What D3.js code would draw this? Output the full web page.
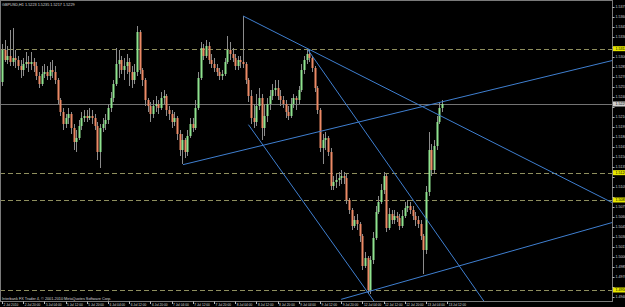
<!DOCTYPE html>
<html>
<head>
<meta charset="utf-8">
<title>GBPUSD,H1</title>
<script src="https://d3js.org/d3.v7.min.js"></script>
<style>
  html, body { margin: 0; padding: 0; background: #000; overflow: hidden; }
  text { font-family: "Liberation Sans", Arial, sans-serif; }
</style>
</head>
<body>
<div id="chart"></div>
<script>
// symbol and hourly bars (open of each bar = close of the previous one)
const symbol = "GBPUSD,H1";
const firstOpen = 1.5262;

const closes = [
  1.5310, 1.5295, 1.5301, 1.5292, 1.5298, 1.5295, 1.5286, 1.5280, 1.5289, 1.5292,
  1.5289, 1.5292, 1.5286, 1.5271, 1.5259, 1.5274, 1.5277, 1.5271, 1.5280, 1.5277,
  1.5265, 1.5235, 1.5217, 1.5199, 1.5208, 1.5214, 1.5193, 1.5172, 1.5178, 1.5196,
  1.5208, 1.5211, 1.5208, 1.5211, 1.5208, 1.5196, 1.5157, 1.5193, 1.5199, 1.5205,
  1.5223, 1.5238, 1.5259, 1.5289, 1.5295, 1.5280, 1.5286, 1.5292, 1.5277, 1.5265,
  1.5277, 1.5337, 1.5280, 1.5265, 1.5235, 1.5226, 1.5214, 1.5226, 1.5229, 1.5223,
  1.5238, 1.5241, 1.5220, 1.5214, 1.5202, 1.5208, 1.5184, 1.5160, 1.5175, 1.5157,
  1.5181, 1.5199, 1.5193, 1.5223, 1.5268, 1.5313, 1.5301, 1.5316, 1.5295, 1.5289,
  1.5283, 1.5277, 1.5271, 1.5274, 1.5292, 1.5310, 1.5304, 1.5298, 1.5286, 1.5295,
  1.5292, 1.5289, 1.5265, 1.5241, 1.5208, 1.5202, 1.5226, 1.5238, 1.5193, 1.5211,
  1.5229, 1.5241, 1.5250, 1.5253, 1.5241, 1.5235, 1.5229, 1.5217, 1.5211, 1.5229,
  1.5238, 1.5235, 1.5250, 1.5280, 1.5295, 1.5304, 1.5298, 1.5283, 1.5253, 1.5220,
  1.5163, 1.5175, 1.5178, 1.5157, 1.5106, 1.5112, 1.5115, 1.5118, 1.5121, 1.5118,
  1.5085, 1.5070, 1.5046, 1.5055, 1.5049, 1.5031, 1.4986, 1.4998, 1.4950, 1.4995,
  1.5028, 1.5067, 1.5082, 1.5100, 1.5121, 1.5043, 1.5064, 1.5055, 1.5061, 1.5058,
  1.5046, 1.5061, 1.5073, 1.5076, 1.5070, 1.5061, 1.5055, 1.5049, 1.5031, 1.5010,
  1.5097, 1.5160, 1.5130, 1.5166, 1.5202, 1.5223, 1.5229
];

const highs = [
  1.5319, 1.5325, 1.5316, 1.5340, 1.5343, 1.5310, 1.5301, 1.5295, 1.5298, 1.5307,
  1.5301, 1.5307, 1.5298, 1.5292, 1.5277, 1.5286, 1.5289, 1.5286, 1.5292, 1.5295,
  1.5286, 1.5268, 1.5238, 1.5223, 1.5214, 1.5223, 1.5217, 1.5199, 1.5190, 1.5205,
  1.5217, 1.5220, 1.5220, 1.5223, 1.5220, 1.5214, 1.5202, 1.5199, 1.5208, 1.5214,
  1.5229, 1.5247, 1.5265, 1.5313, 1.5310, 1.5301, 1.5298, 1.5304, 1.5298, 1.5286,
  1.5289, 1.5346, 1.5340, 1.5283, 1.5268, 1.5238, 1.5232, 1.5235, 1.5241, 1.5235,
  1.5247, 1.5250, 1.5244, 1.5226, 1.5220, 1.5217, 1.5211, 1.5190, 1.5184, 1.5178,
  1.5190, 1.5208, 1.5208, 1.5235, 1.5277, 1.5322, 1.5319, 1.5325, 1.5322, 1.5304,
  1.5298, 1.5289, 1.5283, 1.5280, 1.5298, 1.5331, 1.5322, 1.5313, 1.5304, 1.5301,
  1.5301, 1.5361, 1.5292, 1.5268, 1.5250, 1.5229, 1.5244, 1.5253, 1.5244, 1.5229,
  1.5238, 1.5250, 1.5259, 1.5265, 1.5265, 1.5250, 1.5241, 1.5235, 1.5226, 1.5238,
  1.5244, 1.5241, 1.5256, 1.5289, 1.5301, 1.5310, 1.5310, 1.5301, 1.5286, 1.5256,
  1.5223, 1.5184, 1.5187, 1.5181, 1.5163, 1.5121, 1.5124, 1.5127, 1.5130, 1.5127,
  1.5124, 1.5088, 1.5073, 1.5061, 1.5064, 1.5052, 1.5034, 1.5007, 1.5001, 1.5001,
  1.5037, 1.5076, 1.5091, 1.5109, 1.5127, 1.5124, 1.5073, 1.5070, 1.5070, 1.5067,
  1.5064, 1.5070, 1.5082, 1.5085, 1.5082, 1.5076, 1.5067, 1.5061, 1.5055, 1.5034,
  1.5106, 1.5187, 1.5169, 1.5175, 1.5211, 1.5232, 1.5235
];

const lows = [
  1.5256, 1.5292, 1.5289, 1.5286, 1.5286, 1.5283, 1.5280, 1.5268, 1.5271, 1.5283,
  1.5277, 1.5280, 1.5277, 1.5265, 1.5253, 1.5256, 1.5268, 1.5265, 1.5265, 1.5268,
  1.5259, 1.5229, 1.5211, 1.5190, 1.5193, 1.5199, 1.5184, 1.5160, 1.5157, 1.5175,
  1.5190, 1.5202, 1.5202, 1.5205, 1.5199, 1.5190, 1.5145, 1.5133, 1.5187, 1.5190,
  1.5199, 1.5217, 1.5232, 1.5256, 1.5268, 1.5274, 1.5265, 1.5274, 1.5256, 1.5253,
  1.5259, 1.5271, 1.5274, 1.5256, 1.5226, 1.5217, 1.5202, 1.5208, 1.5217, 1.5214,
  1.5220, 1.5229, 1.5211, 1.5205, 1.5193, 1.5196, 1.5175, 1.5151, 1.5139, 1.5148,
  1.5151, 1.5178, 1.5187, 1.5190, 1.5220, 1.5265, 1.5295, 1.5298, 1.5289, 1.5283,
  1.5277, 1.5271, 1.5265, 1.5265, 1.5271, 1.5289, 1.5295, 1.5292, 1.5280, 1.5280,
  1.5283, 1.5283, 1.5259, 1.5232, 1.5199, 1.5193, 1.5196, 1.5220, 1.5175, 1.5181,
  1.5202, 1.5220, 1.5235, 1.5241, 1.5235, 1.5226, 1.5223, 1.5208, 1.5205, 1.5208,
  1.5223, 1.5220, 1.5229, 1.5247, 1.5274, 1.5289, 1.5292, 1.5277, 1.5247, 1.5214,
  1.5157, 1.5139, 1.5160, 1.5151, 1.5100, 1.5100, 1.5103, 1.5106, 1.5109, 1.5109,
  1.5079, 1.5064, 1.5040, 1.5043, 1.5040, 1.5022, 1.4980, 1.4983, 1.4944, 1.4944,
  1.4989, 1.5025, 1.5064, 1.5079, 1.5094, 1.5037, 1.5040, 1.5049, 1.5049, 1.5052,
  1.5040, 1.5043, 1.5058, 1.5067, 1.5064, 1.5055, 1.5046, 1.5043, 1.5025, 1.4974,
  1.5004, 1.5091, 1.5121, 1.5124, 1.5160, 1.5199, 1.5217
];

// time axis labels and the bar they sit on
const timeLabels = [
  "2 Jul 2010", "2 Jul 20:00", "5 Jul 04:00", "5 Jul 12:00", "5 Jul 20:00", "6 Jul 04:00",
  "6 Jul 12:00", "6 Jul 20:00", "7 Jul 04:00", "7 Jul 12:00", "7 Jul 20:00", "8 Jul 04:00",
  "8 Jul 12:00", "8 Jul 20:00", "9 Jul 04:00", "9 Jul 12:00", "9 Jul 20:00", "12 Jul 04:00",
  "12 Jul 12:00", "12 Jul 20:00", "13 Jul 04:00", "13 Jul 12:00"
];
const timeLabelBars = [0, 8, 16, 24, 32, 40, 48, 56, 64, 72, 80, 88, 96, 104, 112, 120, 128, 136, 144, 152, 160, 168];

// price scale labels
const priceTicks = [
  1.5375, 1.5360, 1.5345, 1.5330, 1.5315, 1.5300, 1.5285, 1.5270, 1.5255, 1.5240,
  1.5225, 1.5210, 1.5195, 1.5180, 1.5165, 1.5150, 1.5135, 1.5120, 1.5105, 1.5090,
  1.5075, 1.5060, 1.5045, 1.5030, 1.5015, 1.5000, 1.4985, 1.4970, 1.4955, 1.4940
];

// horizontal levels (dashed) and trend lines (bar index, price) drawn as rays
const levels = [1.5312, 1.5126, 1.5085, 1.4950];
const trendStartBar = [68.3, 91, 115.5, 93, 128];
const trendStartPrice = [1.5138, 1.5361, 1.5310, 1.5198, 1.4936];
const trendEndBar = [228, 228.3, 180.5, 139, 228.3];
const trendEndPrice = [1.5292, 1.5085, 1.4941, 1.4941, 1.5049];

const width = 625, height = 307;
const plotW = 612, plotH = 301;

const xScale = d3.scaleLinear().domain([-0.75, 230.2]).range([0, plotW]);
const yScale = d3.scaleLinear().domain([1.4935, 1.5385]).range([300, 0]);

const svg = d3.select("#chart").append("svg")
  .attr("width", width).attr("height", height)
  .style("display", "block").style("background", "#000");

svg.append("clipPath").attr("id", "plot")
  .append("rect").attr("x", 0).attr("y", 0).attr("width", plotW).attr("height", plotH);

const plot = svg.append("g").attr("clip-path", "url(#plot)");

// bars
const bars = closes.map((c, i) => {
  const o = i === 0 ? firstOpen : closes[i - 1];
  return { i, o, c, h: Math.max(highs[i], o, c), l: Math.min(lows[i], o, c) };
});
const last = bars[bars.length - 1];

// bid line
plot.append("line")
  .attr("x1", 0).attr("x2", plotW)
  .attr("y1", Math.round(yScale(last.c)) + 0.5).attr("y2", Math.round(yScale(last.c)) + 0.5)
  .attr("stroke", "#737373").attr("stroke-width", 1);

// dashed levels
plot.selectAll(".level").data(levels).enter().append("line")
  .attr("x1", 0).attr("x2", plotW)
  .attr("y1", d => Math.round(yScale(d)) + 0.5).attr("y2", d => Math.round(yScale(d)) + 0.5)
  .attr("stroke", "#8f8f5e").attr("stroke-width", 1).attr("stroke-dasharray", "5,3");

// wicks
plot.selectAll(".wick").data(bars).enter().append("line")
  .attr("x1", d => Math.round(xScale(d.i)) + 0.5).attr("x2", d => Math.round(xScale(d.i)) + 0.5)
  .attr("y1", d => yScale(d.h)).attr("y2", d => yScale(d.l))
  .attr("stroke", "#8c8c8c").attr("stroke-width", 1);

// bodies
plot.selectAll(".body").data(bars).enter().append("rect")
  .attr("x", d => Math.round(xScale(d.i)) - 0.5)
  .attr("width", 2)
  .attr("y", d => yScale(Math.max(d.o, d.c)))
  .attr("height", d => Math.max(1, Math.abs(yScale(d.o) - yScale(d.c))))
  .attr("fill", d => d.c >= d.o ? "#8fe38f" : "#ec8a66");

// trend lines
const xEnd = xScale.domain()[1];
plot.selectAll(".trend").data(trendStartBar).enter().append("line")
  .attr("x1", (d, k) => xScale(d))
  .attr("y1", (d, k) => yScale(trendStartPrice[k]))
  .attr("x2", xScale(xEnd))
  .attr("y2", (d, k) => {
    const slope = (trendEndPrice[k] - trendStartPrice[k]) / (trendEndBar[k] - d);
    return yScale(trendStartPrice[k] + slope * (xEnd - d));
  })
  .attr("stroke", "#3f7fd0").attr("stroke-width", 1);

// frame
svg.append("rect").attr("x", 0.5).attr("y", 0.5).attr("width", plotW).attr("height", plotH)
  .attr("fill", "none").attr("stroke", "#7a7a7a").attr("stroke-width", 1);

// price axis; a tick label hidden under a level tag is skipped
const fmt = d3.format(".4f");
const tags = levels.map(v => ({ v, bg: "#e6e600" })).concat([{ v: last.c, bg: "#d0d0d0" }]);
const freeTicks = priceTicks.filter(p => tags.every(t => Math.abs(yScale(p) - yScale(t.v)) > 5));

const pAxis = svg.append("g");
pAxis.selectAll(".pt").data(priceTicks).enter().append("line")
  .attr("x1", plotW + 0.5).attr("x2", plotW + 2.5)
  .attr("y1", d => Math.round(yScale(d)) + 0.5).attr("y2", d => Math.round(yScale(d)) + 0.5)
  .attr("stroke", "#bbb");
pAxis.selectAll(".pl").data(freeTicks).enter().append("text")
  .attr("x", plotW + 3.5).attr("y", d => yScale(d) + 1.3)
  .attr("font-size", 3.6).attr("fill", "#d8d8d8")
  .text(d => fmt(d));

// level tags on the axis
const tag = pAxis.selectAll(".tag").data(tags).enter().append("g");
tag.append("rect")
  .attr("x", plotW + 1).attr("y", d => yScale(d.v) - 2.5)
  .attr("width", width - plotW - 1).attr("height", 5)
  .attr("fill", d => d.bg);
tag.append("text")
  .attr("x", plotW + 3.5).attr("y", d => yScale(d.v) + 1.3)
  .attr("font-size", 3.6).attr("fill", "#000")
  .text(d => fmt(d.v));

// time axis
const tAxis = svg.append("g");
tAxis.selectAll(".tt").data(timeLabelBars).enter().append("line")
  .attr("x1", d => Math.round(xScale(d)) + 0.5).attr("x2", d => Math.round(xScale(d)) + 0.5)
  .attr("y1", plotH + 0.5).attr("y2", plotH + 3)
  .attr("stroke", "#bbb");
tAxis.selectAll(".tl").data(timeLabelBars).enter().append("text")
  .attr("x", d => xScale(d) + 1.5).attr("y", plotH + 4.6)
  .attr("font-size", 3.2).attr("fill", "#d8d8d8")
  .text((d, k) => timeLabels[k]);

// header and footer texts
svg.append("text").attr("x", 2).attr("y", 5.5)
  .attr("font-size", 3.8).attr("fill", "#d8d8d8")
  .text(symbol + "  " + [last.o, last.h, last.l, last.c].map(fmt).join(" "));
svg.append("text").attr("x", 2).attr("y", plotH - 1.5)
  .attr("font-size", 3.8).attr("fill", "#d8d8d8")
  .text("Interbank FX Trader 4, © 2001-2010 MetaQuotes Software Corp.");
</script>
</body>
</html>
